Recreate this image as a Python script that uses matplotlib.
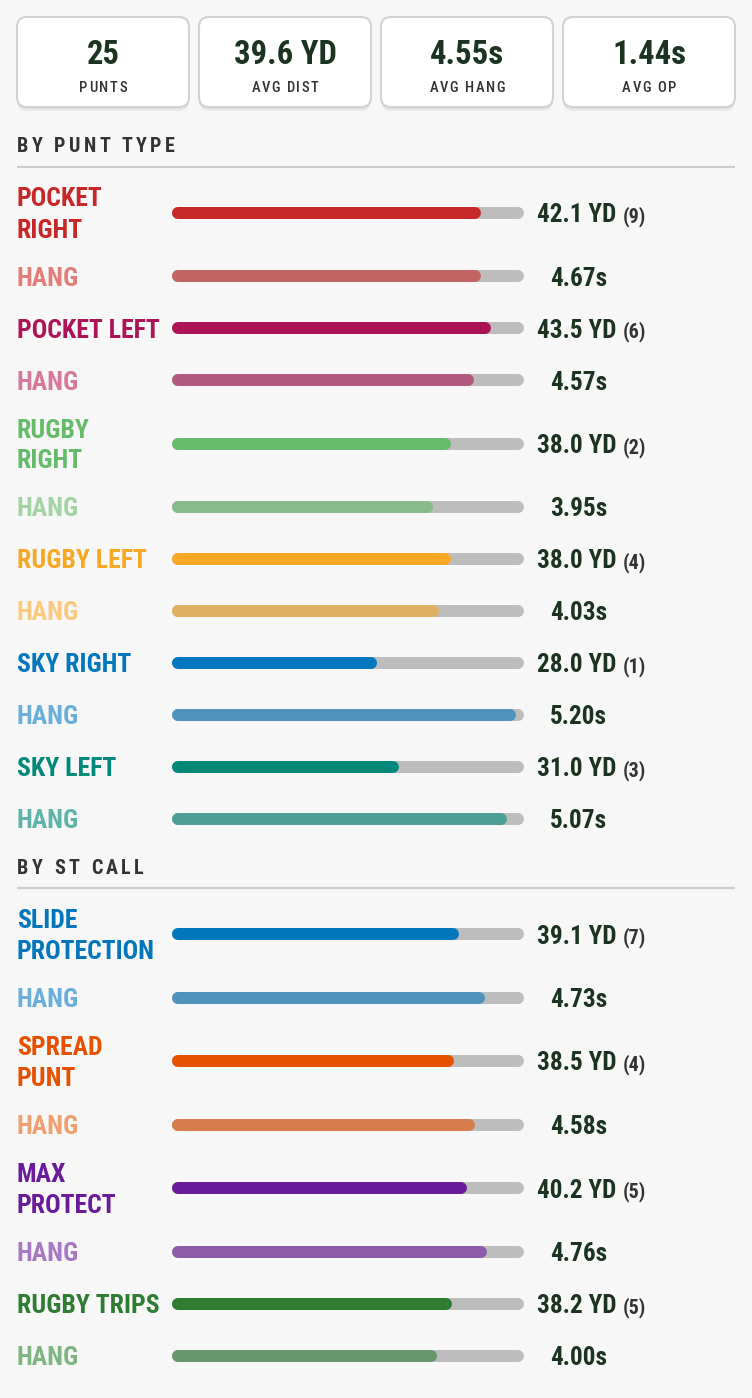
import matplotlib
matplotlib.use('Agg')
import matplotlib.pyplot as plt
from matplotlib import font_manager as fm
from matplotlib.font_manager import FontProperties
from matplotlib.patches import FancyBboxPatch

#---- data ----#
summary_labels = ["PUNTS", "AVG DIST", "AVG HANG", "AVG OP"]
total_punts = 25
avg_dist = 39.6
avg_hang = 4.55
avg_op = 1.44

punt_types = ["POCKET\nRIGHT", "POCKET LEFT", "RUGBY\nRIGHT", "RUGBY LEFT", "SKY RIGHT", "SKY LEFT"]
punt_dist = [42.1, 43.5, 38.0, 38.0, 28.0, 31.0]
punt_count = [9, 6, 2, 4, 1, 3]
punt_hang = [4.67, 4.57, 3.95, 4.03, 5.20, 5.07]

st_calls = ["SLIDE\nPROTECTION", "SPREAD\nPUNT", "MAX\nPROTECT", "RUGBY TRIPS"]
st_dist = [39.1, 38.5, 40.2, 38.2]
st_count = [7, 4, 5, 5]
st_hang = [4.73, 4.58, 4.76, 4.00]

dist_max = 48.0
hang_max = 5.32

# (label colour, bar colour) for main row and for hang row
punt_colors = [("#c62828", "#c62828", "#e27d7a", "#c16564"),
               ("#ad1457", "#ad1457", "#d6799c", "#b3587e"),
               ("#66bb6a", "#66bb6a", "#a3d3a5", "#88bb8b"),
               ("#f9a825", "#f9a825", "#fcc97e", "#e0b062"),
               ("#0277bd", "#0277bd", "#6aaedb", "#4f93bd"),
               ("#00897b", "#00897b", "#5fb3a9", "#4d9f95")]
st_colors = [("#0277bd", "#0277bd", "#6aaedb", "#4f93bd"),
             ("#e65100", "#e65100", "#f0a070", "#d57d4d"),
             ("#6a1b9a", "#6a1b9a", "#a779c4", "#8d5ca8"),
             ("#2e7d32", "#2e7d32", "#7fb583", "#67966a")]

BG = "#f7f7f7"
DARK = "#1b3320"
GREY = "#333333"
TRACK = "#bdbdbd"

#---- fonts: look for a condensed family ----#
def cond_font(weight):
    order = ['Oswald', 'Roboto Condensed', 'Liberation Sans Narrow', 'Noto Sans Condensed',
             'Open Sans Condensed', 'DejaVu Sans']
    cands = [f for f in fm.fontManager.ttflist
             if ('Narrow' in f.name or 'Condensed' in f.name or 'condensed' in str(f.stretch))
             and 'Mono' not in f.name and 'Serif' not in f.name and f.style == 'normal']
    def wnum(w):
        if isinstance(w, (int, float)):
            return w
        return {'bold': 700, 'normal': 400, 'regular': 400, 'medium': 500}.get(str(w).lower(), 400)
    def key(f):
        rank = order.index(f.name) if f.name in order else len(order)
        return (rank, abs(wnum(f.weight) - weight))
    if cands:
        return min(cands, key=key).fname
    return None

bold_file = cond_font(700)
reg_file = cond_font(500)

def fp(size, bold=True):
    f = bold_file if bold else reg_file
    if f:
        return FontProperties(fname=f, size=size)
    return FontProperties(family='DejaVu Sans', weight='bold' if bold else 'normal', size=size)

#---- figure ----#
W, H = 752, 1398
fig = plt.figure(figsize=(W / 100, H / 100), dpi=100, facecolor=BG)
ax = fig.add_axes([0, 0, 1, 1])
ax.set_xlim(0, W)
ax.set_ylim(H, 0)
ax.axis('off')
ax.set_facecolor(BG)

bx_left, bx_width = 172, 352
bx = fig.add_axes([bx_left / W, 0, bx_width / W, 1])
bx.set_xlim(0, 1)
bx.set_ylim(H, 0)
bx.axis('off')
bx.patch.set_alpha(0)

renderer = fig.canvas.get_renderer()

def text_w(s, prop):
    if s == ' ':
        w2 = renderer.get_text_width_height_descent('x x', prop, False)[0]
        w1 = renderer.get_text_width_height_descent('xx', prop, False)[0]
        return w2 - w1
    return renderer.get_text_width_height_descent(s, prop, False)[0]

def cap_h(prop):
    return renderer.get_text_width_height_descent('H', prop, False)[1]

def put(x, yc, s, prop, color, ha='left'):
    ax.text(x, yc + cap_h(prop) / 2, s, fontproperties=prop, color=color, ha=ha, va='baseline')

def spaced(x, yc, s, prop, color, gap, ha='left'):
    widths = [text_w(c, prop) for c in s]
    total = sum(widths) + gap * (len(s) - 1)
    if ha == 'center':
        x = x - total / 2
    base = yc + cap_h(prop) / 2
    for c, w in zip(s, widths):
        if c != ' ':
            ax.text(x, base, c, fontproperties=prop, color=color, ha='left', va='baseline')
        x += w + gap

#---- summary cards ----#
card_x = [17, 199, 381, 563]
card_w, card_top, card_h = 172, 17, 90
card_vals = [f"{total_punts}", f"{avg_dist:.1f} YD", f"{avg_hang:.2f}s", f"{avg_op:.2f}s"]
for cx, val, lab in zip(card_x, card_vals, summary_labels):
    for k, a in [(4, 0.05), (2, 0.06)]:
        sh = FancyBboxPatch((cx, card_top + k), card_w, card_h,
                            boxstyle="round,pad=0,rounding_size=10",
                            fc='#000000', ec='none', alpha=a, zorder=1)
        ax.add_patch(sh)
    card = FancyBboxPatch((cx, card_top), card_w, card_h,
                          boxstyle="round,pad=0,rounding_size=10",
                          fc='white', ec='#d2d2d2', lw=1.5, zorder=2)
    ax.add_patch(card)
    ax.text(cx + card_w / 2, 52 + cap_h(fp(23.5)) / 2, val, fontproperties=fp(23.5), color=DARK,
            ha='center', va='baseline', zorder=3)
    spaced(cx + card_w / 2, 87, lab, fp(10.5, bold=False), GREY, 1.6, ha='center')

#---- sections ----#
def bar(yc, frac, color):
    r = 6 / bx_width
    lw = 12 * 0.72
    bx.plot([r, 1 - r], [yc, yc], color=TRACK, lw=lw, solid_capstyle='round')
    bx.plot([r, max(frac - r, r)], [yc, yc], color=color, lw=lw, solid_capstyle='round')

def section(title, head_y, names, dists, counts, hangs, colors):
    spaced(17, head_y, title, fp(14.5), GREY, 3.4)
    line_y = head_y + 22
    ax.plot([17, 735], [line_y, line_y], color='#cccccc', lw=1.5, solid_capstyle='butt')
    y = line_y + 8.5
    lab_fp = fp(18.5)
    val_fp = fp(18.2)
    cnt_fp = fp(14.5)
    for name, d, n, hg, (lc, bc, hlc, hbc) in zip(names, dists, counts, hangs, colors):
        lines = name.split('\n')
        rh = 75 if len(lines) > 1 else 52
        yc = y + rh / 2
        for i, ln in enumerate(lines):
            put(17, yc + (i - (len(lines) - 1) / 2) * 31, ln, lab_fp, lc)
        bar(yc, d / dist_max, bc)
        s = f"{d:.1f} YD"
        put(537, yc, s, val_fp, DARK)
        base = yc + cap_h(val_fp) / 2
        ax.text(537 + text_w(s, val_fp) + 6, base, f"({n})", fontproperties=cnt_fp,
                color=GREY, ha='left', va='baseline')
        y += rh
        # hang row
        yc = y + 26
        put(17, yc, "HANG", lab_fp, hlc)
        bar(yc, hg / hang_max, hbc)
        put(607, yc, f"{hg:.2f}s", val_fp, DARK, ha='right')
        y += 52
    return y

end1 = section("BY PUNT TYPE", 144.5, punt_types, punt_dist, punt_count, punt_hang, punt_colors)
section("BY ST CALL", end1 + 21, st_calls, st_dist, st_count, st_hang, st_colors)

fig.savefig('out.png', dpi=100, facecolor=BG)
